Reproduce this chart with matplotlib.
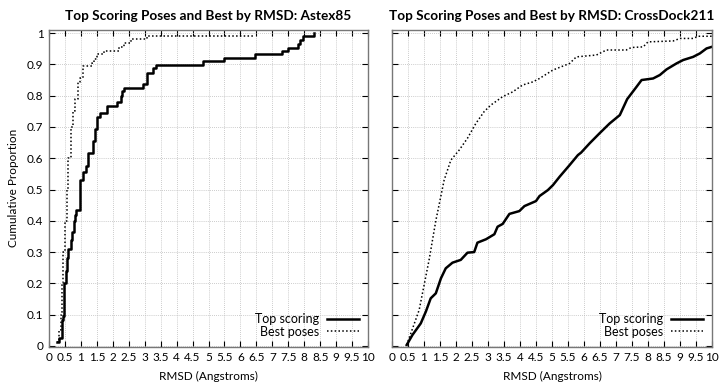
import matplotlib
matplotlib.use("Agg")
import matplotlib.pyplot as plt
import numpy as np

plt.rcParams['font.family'] = ['Lato', 'DejaVu Sans']

# Astex85: step CDF knots (rmsd, cumulative proportion)
astex_top_x = [0.24, 0.32, 0.40, 0.45, 0.48, 0.52, 0.55, 0.60, 0.68, 0.72, 0.78, 0.82,
               0.85, 0.97, 1.08, 1.16, 1.23, 1.37, 1.44, 1.51, 1.60, 1.81, 2.12, 2.25,
               2.28, 2.35, 2.94, 3.06, 3.25, 3.35, 4.82, 5.49, 6.46, 7.29, 7.50, 7.82,
               7.88, 7.95, 8.30]
astex_top_y = [0.012, 0.024, 0.082, 0.094, 0.20, 0.24, 0.28, 0.31, 0.34, 0.365, 0.40, 0.42,
               0.435, 0.53, 0.557, 0.575, 0.616, 0.655, 0.695, 0.733, 0.744, 0.767, 0.78, 0.80,
               0.816, 0.826, 0.837, 0.873, 0.887, 0.898, 0.91, 0.922, 0.933, 0.943, 0.954, 0.965,
               0.977, 0.99, 1.0]

astex_best_x = [0.24, 0.30, 0.38, 0.41, 0.45, 0.51, 0.56, 0.61, 0.69, 0.76, 0.82, 0.92,
                0.98, 1.08, 1.34, 1.40, 1.50, 1.72, 2.20, 2.35, 2.56, 3.06, 6.46]
astex_best_y = [0.012, 0.05, 0.10, 0.20, 0.30, 0.40, 0.50, 0.60, 0.70, 0.75, 0.79, 0.845,
                0.857, 0.895, 0.905, 0.918, 0.932, 0.943, 0.955, 0.967, 0.98, 0.99, 0.99]

# CrossDock211
cross_top_x = [0.46, 0.64, 0.90, 1.06, 1.21, 1.37, 1.53, 1.68, 1.89, 2.15, 2.36, 2.57,
               2.67, 2.94, 3.20, 3.30, 3.46, 3.67, 3.98, 4.14, 4.50, 4.61, 4.87, 5.03,
               5.24, 5.55, 5.81, 5.91, 6.18, 6.49, 6.80, 7.12, 7.35, 7.64, 7.80, 8.16,
               8.37, 8.58, 8.89, 9.10, 9.41, 9.62, 9.83, 9.99]
cross_top_y = [0.003, 0.035, 0.072, 0.11, 0.152, 0.168, 0.216, 0.248, 0.266, 0.275, 0.298, 0.30,
               0.33, 0.341, 0.357, 0.381, 0.39, 0.422, 0.431, 0.447, 0.463, 0.479, 0.498, 0.514,
               0.541, 0.578, 0.61, 0.618, 0.648, 0.68, 0.711, 0.738, 0.789, 0.828, 0.85, 0.855,
               0.866, 0.884, 0.903, 0.914, 0.924, 0.935, 0.951, 0.956]

cross_best_x = [0.46, 0.85, 1.16, 1.37, 1.63, 1.84, 2.10, 2.36, 2.62, 2.88, 3.09, 3.46,
                3.77, 4.08, 4.40, 4.61, 5.03, 5.55, 5.76, 6.39, 6.70, 7.32, 7.48, 7.85,
                8.00, 8.79, 9.00, 9.41, 9.57, 9.99]
cross_best_y = [0.003, 0.115, 0.275, 0.40, 0.53, 0.594, 0.626, 0.664, 0.711, 0.749, 0.77, 0.797,
                0.812, 0.834, 0.844, 0.855, 0.882, 0.903, 0.924, 0.93, 0.946, 0.946, 0.954, 0.956,
                0.972, 0.975, 0.983, 0.983, 0.99, 0.99]

titles = ["Top Scoring Poses and Best by RMSD: Astex85",
          "Top Scoring Poses and Best by RMSD: CrossDock211"]
xticks = np.arange(0, 10.01, 0.5)
xtick_labels = ["%g" % t for t in xticks]
yticks = np.arange(0, 1.01, 0.1)
ytick_labels = ["%g" % round(t, 1) for t in yticks]

fig = plt.figure(figsize=(7.24, 3.86), dpi=100)
ax1 = fig.add_axes([0.0677, 0.1023, 0.4406, 0.82])
ax2 = fig.add_axes([0.5414, 0.1023, 0.442, 0.82])

ax1.plot(astex_top_x, astex_top_y, drawstyle='steps-post', color='black', lw=1.8,
         label='Top scoring')
ax1.plot(astex_best_x, astex_best_y, drawstyle='steps-post', color='black', lw=1.1,
         linestyle=(0, (1, 1.5)), label='Best poses')
ax2.plot(cross_top_x, cross_top_y, color='black', lw=1.8, label='Top scoring')
ax2.plot(cross_best_x, cross_best_y, color='black', lw=1.1,
         linestyle=(0, (1, 1.5)), label='Best poses')

for i, ax in enumerate([ax1, ax2]):
    ax.set_xlim(0, 10)
    ax.set_ylim(-0.002, 1.01)
    ax.set_xticks(xticks)
    ax.set_xticklabels(xtick_labels)
    ax.set_yticks(yticks)
    ax.set_yticklabels(ytick_labels)
    ax.tick_params(direction='in', top=True, right=True, length=4, width=0.8,
                   labelsize=8.5, colors='black', pad=4)
    ax.grid(True, color='#bbbbbb', linestyle=(0, (1, 1.5)), lw=0.6)
    for s in ax.spines.values():
        s.set_color('#777777')
        s.set_linewidth(1.0)
    ax.set_title(titles[i], fontsize=9.8, fontweight='bold', pad=7)
    ax.set_xlabel('RMSD (Angstroms)', fontsize=8.5, labelpad=6)
    ax.legend(loc='lower right', frameon=False, markerfirst=False, fontsize=9,
              handlelength=2.6, labelspacing=0.05, borderaxespad=0.3, handletextpad=0.6)

ax2.tick_params(labelleft=False)
ax1.set_ylabel('Cumulative Proportion', fontsize=8.5, labelpad=6)

fig.savefig('out.png', dpi=100)
